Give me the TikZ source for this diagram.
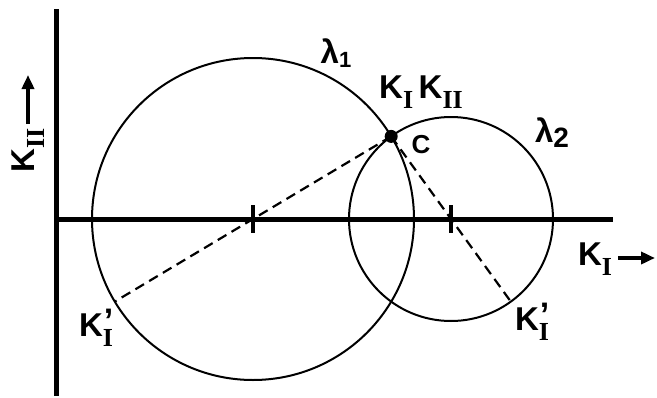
\documentclass[tikz,border=0pt]{standalone}
\usepackage{fontspec}
\setmainfont{Liberation Sans}
\newfontfamily\serf{Liberation Serif}
\usetikzlibrary{arrows.meta,calc}
\newcommand\subI[1]{\raisebox{-0.3em}{\fontsize{26}{26}\selectfont\serf\bfseries #1}}
\newcommand\primeI{\rlap{\raisebox{0.12em}{\fontsize{34}{34}\selectfont\bfseries\kern1pt'}}\subI{I}}
\begin{document}
\begin{tikzpicture}[x=1pt,y=-1pt,
  axis/.style={line width=5pt},
  circ/.style={line width=2pt},
  dashline/.style={line width=2.2pt,dash pattern=on 10pt off 6pt},
  tickmark/.style={line width=4pt},
  lbl/.style={inner sep=0pt,font=\fontsize{33}{33}\selectfont\bfseries},
  axarrow/.style={line width=3.5pt,-{Triangle[length=14pt,width=12pt]}}]
\useasboundingbox (0,0) rectangle (657,397);
\coordinate (o) at (56,219);
\coordinate (ytop) at (56,9);
\coordinate (ybot) at (56,396);
\coordinate (xend) at (613,219);
\coordinate (c1) at (253,219);
\coordinate (c2) at (451,219);
\coordinate (C) at (391.2,136.4);
\coordinate (k1p) at ($(c1)!-1!(C)$);
\coordinate (k2p) at ($(c2)!-1!(C)$);
% axes
\draw[axis] (ytop) -- (ybot);
\draw[axis] (56,219) -- (xend);
% circles
\draw[circ] (c1) circle (161);
\draw[circ] (c2) circle (102);
% ticks
\draw[tickmark] ($(c1)+(0,-14)$) -- ($(c1)+(0,14)$);
\draw[tickmark] ($(c2)+(0,-14)$) -- ($(c2)+(0,14)$);
% dashed diameters
\draw[dashline] (C) -- (k1p);
\draw[dashline] (C) -- (k2p);
\fill (C) circle (6.5);
% labels
\node[lbl] (l1) at (336,53) {λ\raisebox{-0.12em}{\fontsize{22}{22}\selectfont\bfseries 1}};
\node[lbl] (k12) at (421,92) {K\subI{I}\,K\subI{II}};
\node[lbl,font=\fontsize{26}{26}\selectfont\bfseries] (clab) at (421,145) {C};
\node[lbl] (l2) at (552,133) {λ\raisebox{-0.15em}{\fontsize{28}{28}\selectfont\bfseries 2}};
\node[lbl] (kp1) at (96,328) {K\primeI};
\node[lbl] (kp2) at (532,322) {K\primeI};
\node[lbl] (kx) at (595,259) {K\subI{I}};
\coordinate (xa1) at (618,258);
\coordinate (xa2) at (655,258);
\draw[axarrow] (xa1) -- (xa2);
\node[lbl,rotate=90] (ky) at (28,150) {K\subI{II}};
\coordinate (ya1) at (28,124);
\coordinate (ya2) at (28,75);
\draw[axarrow] (ya1) -- (ya2);
\end{tikzpicture}
\end{document}
